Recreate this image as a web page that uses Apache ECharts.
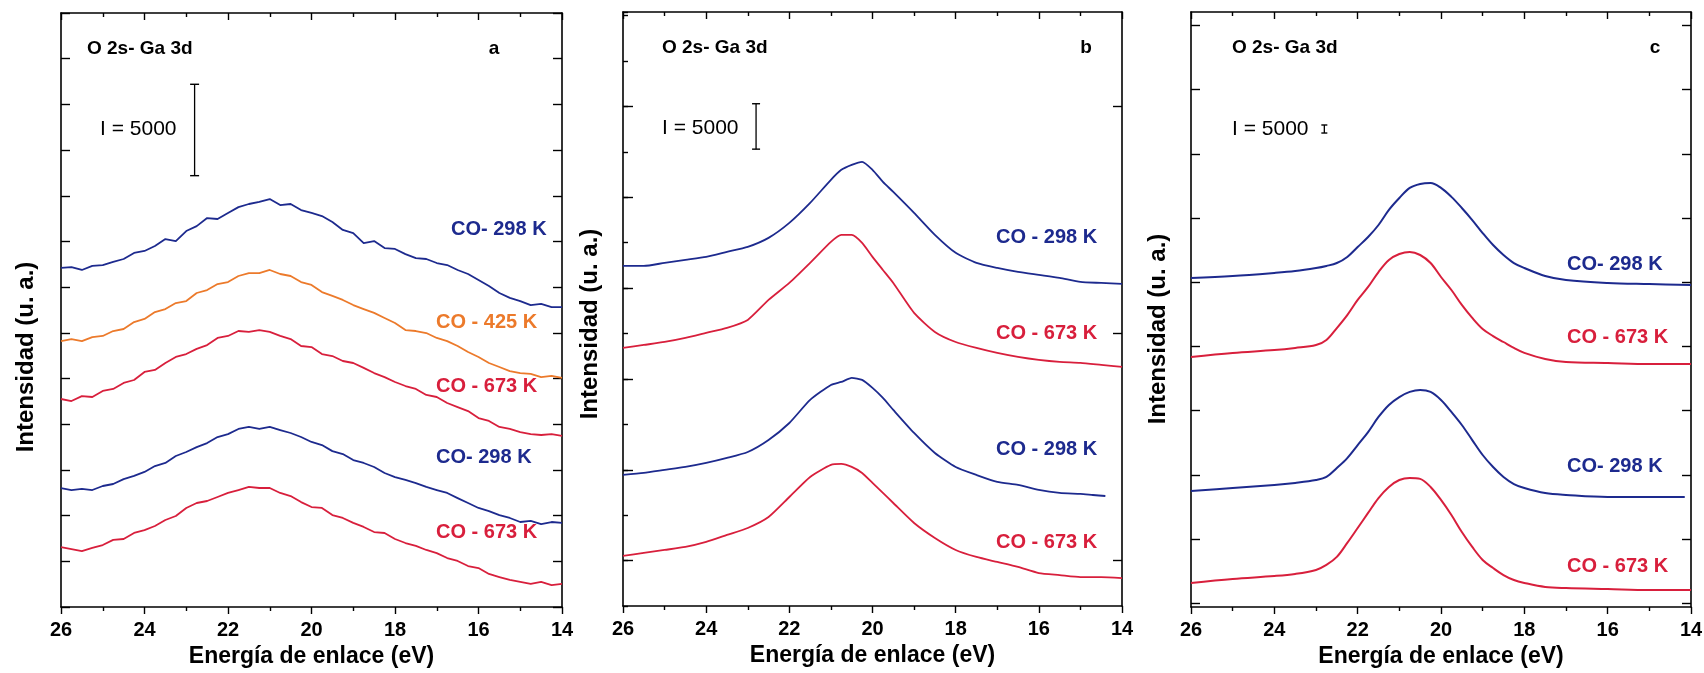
<!DOCTYPE html>
<html>
<head>
<meta charset="utf-8">
<script src="https://cdn.jsdelivr.net/npm/echarts@6/dist/echarts.min.js"></script>
<style>
  html, body { margin: 0; padding: 0; background: #fff; }
  #chart { width: 1704px; height: 673px; }
</style>
</head>
<body>
<div id="chart"></div>
<script>
// ---- Panel a: O 2s - Ga 3d valence region (counts), 0.25 eV steps ----
const energyA = [26, 25.75, 25.5, 25.25, 25, 24.75, 24.5, 24.25, 24, 23.75, 23.5, 23.25, 23, 22.75, 22.5, 22.25, 22, 21.75, 21.5, 21.25, 21, 20.75, 20.5, 20.25, 20, 19.75, 19.5, 19.25, 19, 18.75, 18.5, 18.25, 18, 17.75, 17.5, 17.25, 17, 16.75, 16.5, 16.25, 16, 15.75, 15.5, 15.25, 15, 14.75, 14.5, 14.25, 14];
const a298top = [18550, 18600, 18440, 18660, 18710, 18880, 19040, 19370, 19480, 19750, 20130, 20020, 20570, 20840, 21280, 21230, 21560, 21880, 22050, 22160, 22320, 21990, 22050, 21720, 21560, 21390, 21060, 20630, 20460, 19910, 20020, 19640, 19590, 19310, 19090, 19040, 18820, 18710, 18440, 18220, 17890, 17560, 17180, 16910, 16740, 16520, 16580, 16410, 16410];
const a425 = [14550, 14660, 14550, 14770, 14830, 15100, 15210, 15590, 15760, 16140, 16300, 16630, 16740, 17180, 17340, 17670, 17780, 18110, 18270, 18270, 18440, 18220, 18110, 17780, 17620, 17230, 17020, 16800, 16520, 16300, 16090, 15810, 15540, 15150, 15100, 14990, 14720, 14550, 14280, 13950, 13680, 13350, 13130, 12910, 12800, 12750, 12580, 12640, 12530];
const a673top = [11380, 11270, 11540, 11490, 11820, 11930, 12260, 12420, 12860, 12970, 13350, 13680, 13840, 14120, 14330, 14720, 14830, 15100, 15050, 15150, 15050, 14830, 14660, 14280, 14220, 13840, 13730, 13460, 13350, 13080, 12800, 12580, 12310, 12090, 11930, 11600, 11490, 11160, 10940, 10720, 10340, 10180, 9850, 9740, 9570, 9460, 9410, 9460, 9360];
const a298low = [6510, 6400, 6460, 6400, 6620, 6730, 7000, 7170, 7390, 7710, 7880, 8260, 8480, 8750, 8970, 9300, 9460, 9740, 9850, 9740, 9850, 9680, 9520, 9300, 9030, 8860, 8530, 8370, 8040, 7880, 7660, 7330, 7110, 6950, 6780, 6570, 6400, 6240, 5960, 5690, 5420, 5250, 5030, 4870, 4650, 4710, 4540, 4650, 4600];
const a673low = [3280, 3170, 3060, 3230, 3390, 3670, 3720, 4050, 4210, 4430, 4760, 4980, 5420, 5690, 5800, 6020, 6240, 6400, 6570, 6510, 6510, 6240, 6070, 5740, 5470, 5420, 5030, 4870, 4600, 4380, 4100, 4050, 3720, 3500, 3340, 3120, 2950, 2680, 2520, 2240, 2130, 1810, 1640, 1480, 1370, 1260, 1370, 1200, 1260];

// ---- Panel b ----
const energyB = [26, 25.5, 25, 24.5, 24, 23.5, 23, 22.5, 22, 21.5, 21, 20.75, 20.5, 20.25, 20, 19.75, 19.5, 19, 18.5, 18, 17.5, 17, 16.5, 16, 15.5, 15, 14.5, 14];
const energyBshort = [26, 25.5, 25, 24.5, 24, 23.5, 23, 22.5, 22, 21.5, 21, 20.75, 20.5, 20.25, 20, 19.75, 19.5, 19, 18.5, 18, 17.5, 17, 16.5, 16, 15.5, 15, 14.7, 14.4];
const b298top = [37440, 37440, 37780, 38110, 38440, 38990, 39540, 40530, 42180, 44380, 46920, 48020, 48570, 48900, 48020, 46700, 45590, 43280, 40860, 38880, 37780, 37220, 36780, 36450, 36120, 35680, 35570, 35460];
const b673top = [28410, 28740, 29070, 29520, 30070, 30620, 31500, 33700, 35570, 37780, 40090, 40860, 40860, 39980, 38440, 37000, 35570, 32270, 30180, 29070, 28410, 27860, 27420, 27090, 26870, 26760, 26540, 26320];
const b298low = [14430, 14650, 14980, 15310, 15750, 16300, 16960, 18280, 20150, 22690, 24340, 24670, 25110, 24890, 24010, 22910, 21590, 19050, 16850, 15310, 14430, 13660, 13330, 12780, 12450, 12340, 12220, 12110];
const b673low = [5510, 5840, 6170, 6500, 7050, 7820, 8590, 9800, 12000, 14210, 15530, 15640, 15310, 14650, 13550, 12450, 11340, 9140, 7490, 6170, 5400, 4850, 4300, 3630, 3410, 3190, 3190, 3080];

// ---- Panel c ----
const energyC = [26, 25, 24, 23.5, 23, 22.75, 22.5, 22.25, 22, 21.75, 21.5, 21.25, 21, 20.75, 20.5, 20.25, 20, 19.75, 19.5, 19.25, 19, 18.75, 18.5, 18.25, 18, 17.5, 17, 16, 15, 14];
const energyCshort = [26, 25, 24, 23.5, 23, 22.75, 22.5, 22.25, 22, 21.75, 21.5, 21.25, 21, 20.75, 20.5, 20.25, 20, 19.75, 19.5, 19.25, 19, 18.75, 18.5, 18.25, 18, 17.5, 17, 16, 15, 14.15];
const c298top = [205000, 206200, 208100, 209300, 211200, 212500, 214300, 218100, 224300, 230500, 238000, 247400, 254800, 261100, 263600, 264200, 261100, 255500, 248600, 241100, 233000, 225500, 219300, 214300, 211200, 206200, 203700, 201900, 201200, 200600];
const c673top = [155800, 158300, 160100, 161400, 163200, 166400, 173800, 181900, 191300, 199400, 208700, 216200, 219900, 221200, 219300, 214300, 205600, 197500, 188200, 180100, 173200, 168800, 165100, 161400, 158300, 154500, 152600, 152000, 151400, 151400];
const c298low = [72300, 74100, 76000, 77300, 79100, 81000, 86600, 92800, 100900, 109000, 118400, 125900, 130800, 134000, 135200, 134000, 129000, 121500, 113400, 104000, 94700, 87200, 81000, 76600, 74100, 71000, 69800, 68500, 68500, 68500];
const c673low = [15000, 17500, 19300, 20600, 23100, 26200, 31200, 39900, 49200, 58600, 67900, 74800, 79100, 80400, 79800, 74800, 66700, 57300, 46700, 37400, 29300, 24300, 19900, 16800, 15000, 12500, 11800, 11200, 10600, 10600];

// Intensity scale bars (I = 5000) for each panel
const scaleValue = 5000;
const scaleBarA = { energy: 22.8, base: 23600 };
const scaleBarB = { energy: 22.8, base: 50300 };
const scaleBarC = { energy: 22.8, base: 295300 };

const tickLabelsX = ['26', '24', '22', '20', '18', '16', '14'];

// ---- styling ----
const FONT = '"Liberation Sans", Arial, Helvetica, sans-serif';
const BLUE = '#1d2a8e';
const RED = '#d81f3c';
const ORANGE = '#ec7a2b';
const BLACK = '#000';

const pairs = (xs, ys) => ys.map((v, i) => [xs[i], v]);

const grids = [];
const xAxes = [];
const yAxes = [];
const series = [];

function addGrid(box) {
  grids.push(Object.assign({ containLabel: false, outerBoundsMode: 'none', show: false }, box));
  return grids.length - 1;
}

function addFrameXAxes(gi) {
  const common = {
    gridIndex: gi, type: 'value', min: 14, max: 26, interval: 2, inverse: true,
    axisLine: { show: true, onZero: false, lineStyle: { color: BLACK, width: 1.6 } },
    splitLine: { show: false }, minorSplitLine: { show: false }
  };
  xAxes.push(Object.assign({}, common, {
    position: 'bottom',
    axisTick: { show: true, inside: false, length: 7, lineStyle: { color: BLACK, width: 1.4 } },
    minorTick: { show: true, splitNumber: 2, length: 4, lineStyle: { color: BLACK, width: 1.4 } },
    axisLabel: {
      show: true, margin: 13, color: BLACK, fontFamily: FONT, fontSize: 20, fontWeight: 'bold',
      formatter: v => tickLabelsX[Math.round((26 - v) / 2)] || ''
    },
    name: 'Energía de enlace (eV)', nameLocation: 'middle', nameGap: 38,
    nameTextStyle: { color: BLACK, fontFamily: FONT, fontSize: 23, fontWeight: 'bold' }
  }));
  const bottomIdx = xAxes.length - 1;
  xAxes.push(Object.assign({}, common, {
    position: 'top',
    axisTick: { show: true, inside: true, length: 7, lineStyle: { color: BLACK, width: 1.4 } },
    minorTick: { show: true, splitNumber: 2, length: 4, lineStyle: { color: BLACK, width: 1.4 } },
    axisLabel: { show: false }
  }));
  return bottomIdx;
}

function addHiddenXAxis(gi) {
  xAxes.push({ gridIndex: gi, type: 'value', min: 14, max: 26, inverse: true, show: false });
  return xAxes.length - 1;
}

function addYAxis(gi, position, min, max, interval, tick, showLine) {
  yAxes.push({
    gridIndex: gi, type: 'value', position, min, max, interval,
    axisLine: { show: showLine, onZero: false, lineStyle: { color: BLACK, width: 1.6 } },
    axisTick: tick ? { show: true, inside: true, length: tick, lineStyle: { color: BLACK, width: 1.4 } } : { show: false },
    axisLabel: { show: false },
    splitLine: { show: false }
  });
  return yAxes.length - 1;
}

function addCurve(xi, yi, xs, ys, color, width, smooth) {
  series.push({
    type: 'line', xAxisIndex: xi, yAxisIndex: yi, data: pairs(xs, ys),
    showSymbol: false, smooth: smooth, lineStyle: { color, width, join: 'round' }, itemStyle: { color },
    silent: true, z: 3
  });
}

function addScaleBar(xi, yi, bar, cap) {
  series.push({
    type: 'line', xAxisIndex: xi, yAxisIndex: yi,
    data: [[bar.energy, bar.base], [bar.energy, bar.base + scaleValue]],
    showSymbol: true, symbol: 'rect', symbolSize: [cap, 1.4],
    lineStyle: { color: BLACK, width: 1.3 }, itemStyle: { color: BLACK },
    silent: true, z: 4
  });
}

// ---- panel a ----
const gA = addGrid({ left: 61, top: 13, width: 501, height: 594 });
const xA = addFrameXAxes(gA);
const yA = addYAxis(gA, 'left', 0, 32500, 2500, 9, true);
addYAxis(gA, 'right', 0, 32500, 2500, 9, true);
addCurve(xA, yA, energyA, a298top, BLUE, 1.8, false);
addCurve(xA, yA, energyA, a425, ORANGE, 1.8, false);
addCurve(xA, yA, energyA, a673top, RED, 1.8, false);
addCurve(xA, yA, energyA, a298low, BLUE, 1.8, false);
addCurve(xA, yA, energyA, a673low, RED, 1.8, false);
addScaleBar(xA, yA, scaleBarA, 9);

// ---- panel b ----
const gB = addGrid({ left: 623, top: 12, width: 499, height: 594 });
const xB = addFrameXAxes(gB);
const yB = addYAxis(gB, 'left', 0, 65400, 5000, 5, true);
addYAxis(gB, 'right', 0, 65400, null, 0, true);
const gBt = addGrid({ left: 623, top: 106.6, width: 499, height: 454 });
addHiddenXAxis(gBt);
addYAxis(gBt, 'left', 0, 50000, 10000, 10, false);
addYAxis(gBt, 'right', 0, 50000, 25000, 9, false);
addCurve(xB, yB, energyB, b298top, BLUE, 1.8, 0.2);
addCurve(xB, yB, energyB, b673top, RED, 1.8, 0.2);
addCurve(xB, yB, energyBshort, b298low, BLUE, 1.8, 0.2);
addCurve(xB, yB, energyB, b673low, RED, 1.8, 0.2);
addScaleBar(xB, yB, scaleBarB, 8);

// ---- panel c ----
const gC = addGrid({ left: 1191, top: 12, width: 500, height: 595 });
const xC = addFrameXAxes(gC);
const yC = addYAxis(gC, 'left', 0, 370700, null, 0, true);
addYAxis(gC, 'right', 0, 370700, null, 0, true);
const gCt = addGrid({ left: 1191, top: 25.5, width: 500, height: 577.8 });
addHiddenXAxis(gCt);
addYAxis(gCt, 'left', 0, 360000, 40000, 9, false);
addYAxis(gCt, 'right', 0, 360000, 40000, 9, false);
addCurve(xC, yC, energyC, c298top, BLUE, 2, 0.35);
addCurve(xC, yC, energyC, c673top, RED, 2, 0.35);
addCurve(xC, yC, energyCshort, c298low, BLUE, 2, 0.35);
addCurve(xC, yC, energyC, c673low, RED, 2, 0.35);
addScaleBar(xC, yC, scaleBarC, 6);

// ---- text annotations ----
const txt = (x, y, text, color, size, weight, align) => ({
  type: 'text', x, y, silent: true, z: 10,
  style: { text, fill: color, font: `${weight} ${size}px ${FONT}`, align: align || 'left', verticalAlign: 'middle' }
});
const ytitle = (x, y) => ({
  type: 'text', x, y, rotation: Math.PI / 2, silent: true, z: 10,
  style: { text: 'Intensidad (u. a.)', fill: BLACK, font: `bold 24px ${FONT}`, align: 'center', verticalAlign: 'middle' }
});

const graphics = [
  ytitle(26, 357), ytitle(590, 324), ytitle(1158, 329),
  // panel a
  txt(87, 49, 'O 2s- Ga 3d', BLACK, 19, 'bold'),
  txt(494, 49, 'a', BLACK, 19, 'bold', 'center'),
  txt(100, 129, 'I = 5000', BLACK, 21, 'normal'),
  txt(451, 229, 'CO- 298 K', BLUE, 20, 'bold'),
  txt(436, 322, 'CO - 425 K', ORANGE, 20, 'bold'),
  txt(436, 386, 'CO - 673 K', RED, 20, 'bold'),
  txt(436, 457, 'CO- 298 K', BLUE, 20, 'bold'),
  txt(436, 532, 'CO - 673 K', RED, 20, 'bold'),
  // panel b
  txt(662, 48, 'O 2s- Ga 3d', BLACK, 19, 'bold'),
  txt(1086, 48, 'b', BLACK, 19, 'bold', 'center'),
  txt(662, 128, 'I = 5000', BLACK, 21, 'normal'),
  txt(996, 237, 'CO - 298 K', BLUE, 20, 'bold'),
  txt(996, 333, 'CO - 673 K', RED, 20, 'bold'),
  txt(996, 449, 'CO - 298 K', BLUE, 20, 'bold'),
  txt(996, 542, 'CO - 673 K', RED, 20, 'bold'),
  // panel c
  txt(1232, 48, 'O 2s- Ga 3d', BLACK, 19, 'bold'),
  txt(1655, 48, 'c', BLACK, 19, 'bold', 'center'),
  txt(1232, 129, 'I = 5000', BLACK, 21, 'normal'),
  txt(1567, 264, 'CO- 298 K', BLUE, 20, 'bold'),
  txt(1567, 337, 'CO - 673 K', RED, 20, 'bold'),
  txt(1567, 466, 'CO- 298 K', BLUE, 20, 'bold'),
  txt(1567, 566, 'CO - 673 K', RED, 20, 'bold')
];

const chart = echarts.init(document.getElementById('chart'), null, { renderer: 'canvas' });
chart.setOption({
  animation: false,
  backgroundColor: '#fff',
  grid: grids,
  xAxis: xAxes,
  yAxis: yAxes,
  series: series,
  graphic: graphics
});
</script>
</body>
</html>
